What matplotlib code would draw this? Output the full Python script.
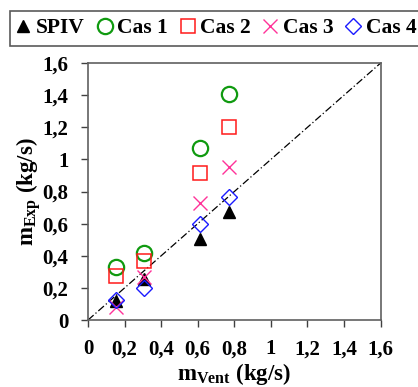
import matplotlib
matplotlib.use("Agg")
import matplotlib.pyplot as plt

plt.rcParams['font.family'] = ['Liberation Serif', 'DejaVu Serif']
plt.rcParams['font.weight'] = 'bold'
plt.rcParams['mathtext.fontset'] = 'custom'
plt.rcParams['mathtext.rm'] = 'Liberation Serif:bold'
plt.rcParams['mathtext.it'] = 'Liberation Serif:bold'
plt.rcParams['mathtext.bf'] = 'Liberation Serif:bold'

# m_Vent (kg/s) for each run
x_vent = [0.153, 0.306, 0.615, 0.77]
spiv = [0.12, 0.253, 0.502, 0.67]
cas1 = [0.332, 0.42, 1.069, 1.407]
cas2 = [0.276, 0.365, 0.917, 1.2]
cas3 = [0.079, 0.27, 0.73, 0.955]
cas4 = [0.125, 0.2, 0.596, 0.766]
ticks = [0, 0.2, 0.4, 0.6, 0.8, 1, 1.2, 1.4, 1.6]
tick_labels = ['0', '0,2', '0,4', '0,6', '0,8', '1', '1,2', '1,4', '1,6']

fig = plt.figure(figsize=(4.18, 3.87), dpi=100)
ax = fig.add_axes([0.2105, 0.173, 0.7, 0.664])

ax.plot([0, 1.6], [0, 1.6], color='black', lw=0.9, ls='-.', dashes=(6, 2, 1, 2), zorder=1)

ax.plot(x_vent, spiv, ls='none', marker='^', ms=8, color='black', label='SPIV', zorder=2)
ax.plot(x_vent, cas1, ls='none', marker='o', ms=11, mfc='none', mec='#109a10', mew=1.6,
        label='Cas 1', zorder=3)
ax.plot(x_vent, cas2, ls='none', marker='s', ms=9.5, mfc='none', mec='#ff1a1a', mew=1.1,
        label='Cas 2', zorder=3)
ax.plot(x_vent, cas3, ls='none', marker='x', ms=10, mec='#ff3399', mew=1.0,
        label='Cas 3', zorder=3)
ax.plot(x_vent, cas4, ls='none', marker='D', ms=8.5, mfc='none', mec='#1a1aff', mew=1.0,
        label='Cas 4', zorder=4)

ax.set_xlim(0, 1.6)
ax.set_ylim(0, 1.6)
ax.set_xticks(ticks)
ax.set_yticks(ticks)
ax.set_xticklabels(tick_labels)
ax.set_yticklabels(tick_labels)
ax.tick_params(direction='out', length=5, width=1, labelsize=15, pad=9, color='#404040')
for s in ax.spines.values():
    s.set_color('#606060')
    s.set_linewidth(1.2)

ax.set_xlabel(r'm$_{\mathrm{Vent}}$ (kg/s)', fontsize=16.5, fontweight='bold', labelpad=1)
ax.set_ylabel(r'm$_{\mathrm{Exp}}$ (kg/s)', fontsize=16.5, fontweight='bold', labelpad=0)

leg = fig.legend(loc='upper left', bbox_to_anchor=(0.024, 0.972), ncol=5, frameon=True,
                 fancybox=False, edgecolor='#303030', fontsize=15.5, handlelength=0.55,
                 handletextpad=0.3, columnspacing=0.65, borderpad=0.35, borderaxespad=0)
leg.get_frame().set_linewidth(1.2)

fig.savefig("out.png", dpi=100)
